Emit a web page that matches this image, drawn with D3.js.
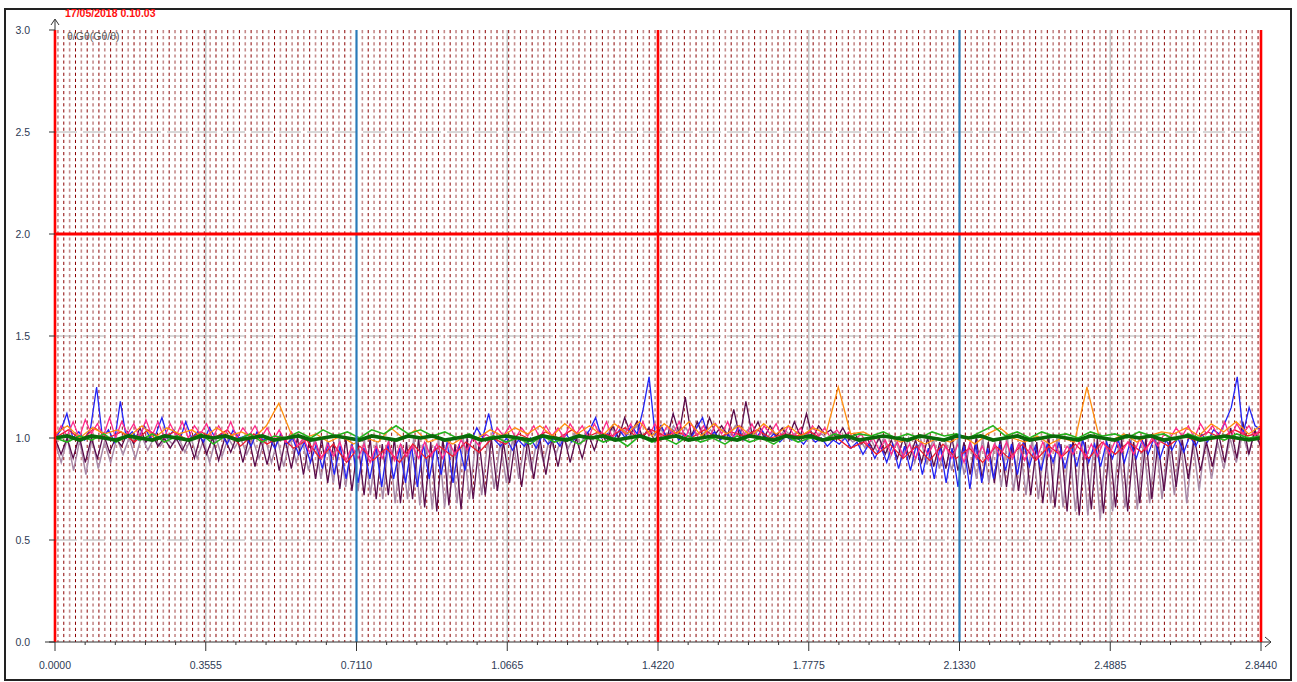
<!DOCTYPE html>
<html>
<head>
<meta charset="utf-8">
<script src="https://cdn.jsdelivr.net/npm/d3@7"></script>
<style>
  html, body { margin: 0; padding: 0; background: #fff; }
  svg { display: block; font-family: "Liberation Sans", Arial, sans-serif; }
</style>
</head>
<body>
<svg id="chart" width="1297" height="682"></svg>
<script>
// chart values
var title = "17/05/2018 0.10.03";
var subtitle = "\u03b8/G\u03b8(G\u03b8/\u03b8)";
var xMax = 2.844;
var yMax = 3.0;
var xTickLabels = ["0.0000", "0.3555", "0.7110", "1.0665", "1.4220", "1.7775", "2.1330", "2.4885", "2.8440"];
var yTickLabels = ["0.0", "0.5", "1.0", "1.5", "2.0", "2.5", "3.0"];
var redVerticals = [0, 1.422, 2.844];
var blueVerticals = [0.711, 2.133];
var redHorizontals = [2.0];
var greyVerticals = [0.3555, 1.0665, 1.7775, 2.4885];
var greyHorizontals = [0.5, 1.5, 2.5];

var mauve = [
  0.98,0.88,1.0,0.84,0.99,0.82,1.0,0.85,0.98,0.88,1.0,0.92,1.0,0.9,1.01,0.94,1.0,0.96,1.0,0.97,
  1.0,0.93,1.0,0.9,0.99,0.88,1.0,0.91,1.0,0.95,1.0,0.92,0.99,0.9,1.0,0.88,0.99,0.86,1.0,0.88,
  0.99,0.84,1.0,0.8,0.98,0.78,1.0,0.76,0.98,0.74,1.0,0.72,0.98,0.7,1.0,0.68,0.97,0.7,1.0,0.67,
  0.98,0.65,1.0,0.66,0.97,0.68,1.0,0.7,0.98,0.72,1.0,0.75,0.98,0.78,1.0,0.8,0.99,0.84,1.0,0.88,
  1.0,0.92,1.01,0.95,1.02,0.97,1.03,0.99,1.04,1.0,1.05,1.0,1.04,1.01,1.06,1.0,1.05,1.01,1.04,1.0,
  1.06,1.01,1.05,1.0,1.07,1.01,1.04,1.0,1.05,1.01,1.06,1.0,1.04,1.01,1.05,1.0,1.03,1.0,1.04,1.01,
  1.03,1.0,1.04,1.0,1.02,0.99,1.03,1.0,1.01,0.98,1.0,0.95,0.99,0.93,1.0,0.9,0.98,0.9,1.0,0.88,
  0.99,0.87,1.0,0.85,0.98,0.84,1.0,0.82,0.98,0.8,1.0,0.78,0.98,0.76,1.0,0.74,0.98,0.72,1.0,0.7,
  0.98,0.68,1.0,0.66,0.97,0.64,1.0,0.62,0.98,0.6,1.0,0.64,0.97,0.66,1.0,0.65,0.98,0.68,1.0,0.7,
  0.98,0.72,1.0,0.68,0.98,0.74,1.0,0.8,0.98,0.85,1.0,0.88,1.02,0.92,1.04,0.96
];
var plum = [
  1.0,0.92,1.0,0.9,1.01,0.88,1.0,0.9,1.02,0.93,1.0,0.96,1.03,0.97,1.05,0.98,1.02,0.96,1.0,0.95,
  1.0,0.94,1.0,0.9,1.01,0.92,1.0,0.89,1.0,0.93,1.01,0.88,1.0,0.86,0.99,0.87,1.0,0.84,0.99,0.85,
  1.0,0.82,0.99,0.8,1.0,0.78,0.98,0.75,1.0,0.74,0.98,0.72,1.0,0.7,0.97,0.72,1.0,0.68,0.98,0.7,
  1.0,0.66,0.98,0.64,1.0,0.67,0.97,0.65,1.0,0.7,0.98,0.72,1.0,0.74,0.98,0.78,1.0,0.76,0.99,0.8,
  1.0,0.82,1.0,0.86,1.01,0.88,1.0,0.9,1.02,0.94,1.03,0.98,1.06,1.0,1.1,1.02,1.08,1.0,1.05,0.98,
  1.06,1.0,1.12,1.02,1.2,1.01,1.08,1.0,1.1,1.02,1.06,1.01,1.14,1.0,1.18,1.02,1.08,1.0,1.06,1.01,
  1.05,1.0,1.08,1.01,1.12,1.0,1.06,1.02,1.04,1.0,1.05,0.99,1.02,0.97,1.0,0.94,1.0,0.92,0.99,0.9,
  1.0,0.9,0.99,0.88,1.0,0.86,0.98,0.85,1.0,0.84,0.98,0.82,1.0,0.8,0.98,0.78,1.0,0.76,0.98,0.74,
  1.0,0.72,0.98,0.68,1.0,0.66,0.97,0.64,1.0,0.62,0.98,0.65,1.0,0.63,0.97,0.66,1.0,0.64,0.98,0.68,
  1.0,0.7,0.98,0.74,1.0,0.76,0.99,0.8,1.0,0.84,0.98,0.86,1.02,0.88,1.05,0.9,1.08,0.92,1.04,0.95
];
var blue = [
  1.0,1.04,1.12,1.0,1.03,0.99,1.05,1.25,1.0,1.04,0.98,1.18,1.0,1.03,0.99,1.06,1.0,1.02,1.1,1.0,
  1.04,0.99,1.08,1.0,1.03,0.98,1.05,1.0,1.02,0.97,1.04,1.0,1.01,0.96,1.03,0.99,1.0,0.95,1.02,0.97,
  1.0,0.92,0.98,0.88,0.97,0.85,0.98,0.82,0.96,0.8,0.97,0.78,0.95,0.8,0.96,0.76,0.97,0.8,0.95,0.78,
  0.96,0.76,0.97,0.8,0.96,0.82,0.98,0.78,0.97,0.84,0.98,1.05,1.0,1.12,0.99,0.96,1.0,0.94,0.99,0.96,
  1.0,0.95,1.01,0.97,1.0,0.96,1.02,0.98,1.01,1.0,1.04,1.1,1.0,1.02,0.99,1.04,1.0,1.06,1.02,1.14,
  1.3,1.02,1.06,1.0,1.04,0.99,1.02,1.0,1.05,1.1,1.0,1.03,0.99,1.02,1.0,1.05,0.99,1.02,1.0,1.04,
  0.99,1.02,0.98,1.01,0.99,1.0,0.97,1.01,0.98,1.0,0.96,0.99,0.97,1.0,0.95,0.98,0.92,0.97,0.9,0.96,
  0.88,0.97,0.85,0.96,0.84,0.97,0.82,0.95,0.8,0.96,0.78,0.95,0.76,0.96,0.75,0.97,0.78,0.95,0.8,0.97,
  0.84,0.97,0.82,0.98,0.86,0.96,0.84,0.97,0.88,0.98,0.85,0.97,0.86,0.99,0.88,0.97,0.86,0.98,0.9,0.99,
  0.88,0.98,0.9,0.99,0.92,1.0,0.9,0.99,0.94,1.0,0.93,1.01,0.96,1.02,0.98,1.04,1.02,1.08,1.15,1.3,
  1.02,1.15,1.06,1.04
];
var red = [
  1.0,1.04,0.99,1.05,1.0,1.03,0.98,1.04,1.0,1.03,
  0.99,1.03,1.0,1.04,0.96,1.02,0.97,1.01,0.95,0.99,
  0.9,0.97,0.88,0.96,0.89,0.95,0.88,0.97,0.9,0.96,
  0.91,0.98,0.93,1.0,0.97,1.02,0.99,1.03,1.0,1.04,
  1.0,1.03,1.01,1.05,1.0,1.04,1.01,1.03,1.0,1.04,
  1.0,1.03,1.01,1.04,1.0,1.02,1.01,1.03,0.99,1.0,
  0.95,0.98,0.92,0.97,0.9,0.96,0.89,0.97,0.9,0.95,
  0.88,0.96,0.9,0.97,0.89,0.96,0.91,0.97,0.9,0.98,
  0.92,0.98,0.93,1.0,0.96,1.01,0.99,1.03,1.0,1.04,
  1.01,1.03
];
var pink = [
  1.0,1.06,1.01,1.08,1.0,1.09,1.02,1.07,1.01,1.1,1.0,1.08,1.02,1.07,1.0,1.09,1.01,1.08,1.0,1.07,
  1.01,1.08,1.0,1.06,1.02,1.07,1.0,1.06,1.01,1.08,1.0,1.05,1.01,1.06,1.0,1.05,0.99,1.04,0.98,1.03,
  0.96,1.0,0.93,0.98,0.9,0.97,0.91,0.98,0.89,0.96,0.9,0.97,0.88,0.96,0.9,0.98,0.89,0.97,0.91,0.96,
  0.9,0.98,0.91,0.97,0.9,0.98,0.92,0.99,0.94,1.0,0.96,1.02,1.0,1.05,1.01,1.06,1.0,1.05,1.01,1.06,
  1.0,1.06,1.01,1.05,1.0,1.07,1.02,1.06,1.0,1.07,1.01,1.08,1.0,1.06,1.02,1.07,1.0,1.08,1.01,1.07,
  1.0,1.06,1.02,1.08,1.0,1.07,1.01,1.06,1.0,1.07,1.02,1.08,1.0,1.06,1.01,1.07,1.0,1.06,1.02,1.07,
  1.0,1.06,1.01,1.05,1.0,1.06,1.01,1.05,1.0,1.04,1.0,1.03,0.99,1.02,0.97,1.0,0.94,0.99,0.92,0.98,
  0.91,0.97,0.9,0.98,0.92,0.97,0.89,0.96,0.9,0.97,0.88,0.98,0.9,0.96,0.89,0.97,0.91,0.98,0.9,0.97,
  0.89,0.96,0.9,0.98,0.91,0.97,0.9,0.96,0.92,0.98,0.9,0.97,0.91,0.98,0.92,0.99,0.93,0.98,0.92,1.0,
  0.94,1.0,0.96,1.02,1.0,1.05,1.01,1.06,1.0,1.07,1.02,1.06,1.01,1.08,1.0,1.07,1.02,1.06,1.01,1.05
];
var orange = [
  1.02,1.06,1.0,1.05,1.02,1.04,1.01,1.06,1.0,1.05,
  1.02,1.04,1.0,1.05,1.01,1.03,1.0,1.06,1.17,1.02,
  1.0,1.02,0.98,1.01,0.97,1.0,0.98,1.05,1.0,1.04,
  0.98,1.0,0.97,1.01,1.0,1.04,1.01,1.05,1.02,1.06,
  1.01,1.07,1.02,1.06,1.01,1.07,1.02,1.08,1.01,1.07,
  1.02,1.08,1.01,1.07,1.02,1.06,1.01,1.07,1.02,1.06,
  1.01,1.05,1.02,1.25,1.02,1.03,1.0,1.01,0.98,1.0,
  0.97,1.0,0.98,1.01,0.97,1.02,1.05,1.0,0.98,1.01,
  0.97,1.0,0.98,1.25,1.0,0.99,1.02,0.98,1.01,1.03,
  1.02,1.05,1.01,1.07,1.03,1.08,1.02,1.06
];
var green = [
  1.0,0.98,1.01,0.99,1.02,0.98,1.01,0.99,1.02,0.98,
  1.01,0.99,1.02,0.97,1.01,0.99,1.02,0.98,1.01,1.0,
  1.03,1.0,1.04,1.01,1.03,1.0,1.04,1.02,1.06,1.02,
  1.04,1.01,1.03,1.0,1.02,0.99,1.01,0.98,1.0,0.97,
  1.01,0.98,1.0,0.97,1.01,0.98,1.0,0.96,1.01,0.98,
  1.0,0.97,1.01,0.98,1.0,0.97,1.01,0.98,1.0,0.97,
  1.01,0.98,1.0,0.99,1.02,1.0,1.02,1.01,1.03,1.0,
  1.02,1.0,1.03,1.01,1.02,1.0,1.03,1.06,1.01,1.03,
  1.0,1.03,1.01,1.02,1.0,1.03,1.01,1.02,1.0,1.03,
  1.01,1.02,0.99,1.02,1.0,1.01,0.99,1.02,1.0,1.01
];
var darkGreen = [
  1.0,1.01,0.99,1.01,1.0,0.99,1.01,1.0,0.99,1.01,
  1.0,0.99,1.01,1.0,1.01,0.99,1.0,1.01,0.99,1.0,
  1.01,0.99,1.0,1.01,1.0,0.99,1.01,1.0,0.99,1.01,
  1.0,1.01,0.99,1.0,1.01,0.99,1.0,1.01,1.0,0.99,
  1.01,1.0,0.99,1.01,1.0,1.01,0.99,1.0,1.01,0.99,
  1.0,1.01,0.99,1.0,1.01,1.0,0.99,1.01,1.0,0.99,
  1.01,1.0,1.01,0.99,1.0,1.01,0.99,1.0,1.01,1.0,
  0.99,1.01,1.0,0.99,1.01,1.0,1.01,0.99,1.0,1.01,
  0.99,1.0,1.01,1.0,0.99,1.01,1.0,0.99,1.01,1.0,
  1.01,0.99,1.0,1.01,0.99,1.0,1.01,1.0,0.99,1.0
];

var seriesList = [
  { name: "mauve", values: mauve, color: "#a98aa8", width: 1.5 },
  { name: "plum", values: plum, color: "#5b0d4c", width: 1.3 },
  { name: "blue", values: blue, color: "#2323f5", width: 1.3 },
  { name: "red", values: red, color: "#ec1c2e", width: 1.3 },
  { name: "pink", values: pink, color: "#ff2a8a", width: 1.3 },
  { name: "orange", values: orange, color: "#ff8f10", width: 1.3 },
  { name: "green", values: green, color: "#27b41f", width: 1.6 },
  { name: "darkGreen", values: darkGreen, color: "#0a6a0a", width: 3.6 }
];

(function () {
  'use strict';

  var svg = d3.select("svg#chart");

  var plotLeft = 55, plotRight = 1261, plotTop = 30, plotBottom = 642;

  var x = d3.scaleLinear().domain([0, xMax]).range([plotLeft, plotRight]);
  var y = d3.scaleLinear().domain([0, yMax]).range([plotBottom, plotTop]);

  // outer frame
  svg.append('rect')
    .attr('x', 5).attr('y', 9)
    .attr('width', 1286).attr('height', 671)
    .attr('fill', '#fff')
    .attr('stroke', '#222')
    .attr('stroke-width', 2);

  // dotted background grid (vertical dashes)
  var gridStep = xMax / 206;
  var gridWrap = svg.append('g').attr('class', 'grid');
  gridWrap.selectAll('line')
    .data(d3.range(gridStep / 2, xMax, gridStep))
    .enter().append('line')
    .attr('x1', function(d) { return x(d); })
    .attr('x2', function(d) { return x(d); })
    .attr('y1', y(yMax))
    .attr('y2', y(0))
    .attr('stroke', function(d, i) { return i % 2 ? '#8b0000' : '#c58a8a'; })
    .attr('stroke-width', function(d, i) { return i % 2 ? 1 : 1.6; })
    .attr('stroke-dasharray', '3.2,2.9');

  // grey helper lines
  svg.selectAll('line.grey-v')
    .data(greyVerticals)
    .enter().append('line')
    .attr('class', 'grey-v')
    .attr('x1', function(d) { return x(d); })
    .attr('x2', function(d) { return x(d); })
    .attr('y1', y(yMax)).attr('y2', y(0))
    .attr('stroke', '#c4c4c4')
    .attr('stroke-width', 1.5);

  svg.selectAll('line.grey-h')
    .data(greyHorizontals)
    .enter().append('line')
    .attr('class', 'grey-h')
    .attr('x1', x(0)).attr('x2', x(xMax))
    .attr('y1', function(d) { return y(d); })
    .attr('y2', function(d) { return y(d); })
    .attr('stroke', '#b0b0b0')
    .attr('stroke-width', 1)
    .attr('stroke-dasharray', '22,6');

  // data series
  var lineWrap = svg.append('g').attr('class', 'series');
  seriesList.forEach(function(s) {
    var xi = d3.scaleLinear().domain([0, s.values.length - 1]).range([0, xMax]);
    var line = d3.line()
      .x(function(d, i) { return x(xi(i)); })
      .y(function(d) { return y(d); });
    lineWrap.append('path')
      .datum(s.values)
      .attr('d', line)
      .attr('fill', 'none')
      .attr('stroke', s.color)
      .attr('stroke-width', s.width)
      .attr('stroke-linejoin', 'miter');
  });

  // reference lines
  svg.selectAll('line.blue-v')
    .data(blueVerticals)
    .enter().append('line')
    .attr('class', 'blue-v')
    .attr('x1', function(d) { return x(d); })
    .attr('x2', function(d) { return x(d); })
    .attr('y1', y(yMax)).attr('y2', y(0))
    .attr('stroke', '#2a7ab8')
    .attr('stroke-width', 2.2);

  svg.selectAll('line.red-h')
    .data(redHorizontals)
    .enter().append('line')
    .attr('class', 'red-h')
    .attr('x1', x(0)).attr('x2', x(xMax))
    .attr('y1', function(d) { return y(d); })
    .attr('y2', function(d) { return y(d); })
    .attr('stroke', '#ff0000')
    .attr('stroke-width', 3);

  // x axis
  var axisColor = '#333';
  svg.append('line')
    .attr('x1', plotLeft - 10).attr('x2', plotRight + 10)
    .attr('y1', plotBottom).attr('y2', plotBottom)
    .attr('stroke', axisColor).attr('stroke-width', 1.2);
  svg.append('path')
    .attr('d', `M${plotRight + 4},${plotBottom - 5} L${plotRight + 10},${plotBottom} L${plotRight + 4},${plotBottom + 5}`)
    .attr('fill', 'none').attr('stroke', axisColor).attr('stroke-width', 1);

  var minorTicks = d3.range(0, 41).map(function(i) { return i * xMax / 40; });
  svg.selectAll('line.minor-tick')
    .data(minorTicks)
    .enter().append('line')
    .attr('class', 'minor-tick')
    .attr('x1', function(d) { return x(d); })
    .attr('x2', function(d) { return x(d); })
    .attr('y1', plotBottom)
    .attr('y2', function(d, i) { return i % 5 === 0 ? plotBottom + 9 : plotBottom + 3; })
    .attr('stroke', axisColor).attr('stroke-width', 1);

  svg.selectAll('text.x-label')
    .data(xTickLabels)
    .enter().append('text')
    .attr('class', 'x-label')
    .attr('x', function(d, i) { return x(i * xMax / (xTickLabels.length - 1)); })
    .attr('y', plotBottom + 27)
    .attr('text-anchor', 'middle')
    .style('font-size', '10.5px')
    .attr('fill', '#2d3a55')
    .text(function(d) { return d; });

  // y axis
  svg.append('line')
    .attr('x1', plotLeft).attr('x2', plotLeft)
    .attr('y1', plotTop - 10).attr('y2', plotBottom)
    .attr('stroke', axisColor).attr('stroke-width', 1);
  svg.append('path')
    .attr('d', `M${plotLeft - 4},${plotTop - 5} L${plotLeft},${plotTop - 11} L${plotLeft + 4},${plotTop - 5}`)
    .attr('fill', 'none').attr('stroke', axisColor).attr('stroke-width', 1);

  svg.selectAll('line.red-v')
    .data(redVerticals)
    .enter().append('line')
    .attr('class', 'red-v')
    .attr('x1', function(d) { return x(d); })
    .attr('x2', function(d) { return x(d); })
    .attr('y1', y(yMax)).attr('y2', y(0))
    .attr('stroke', '#ff0000')
    .attr('stroke-width', 2.6);

  svg.selectAll('line.y-tick')
    .data(yTickLabels)
    .enter().append('line')
    .attr('class', 'y-tick')
    .attr('x1', plotLeft - 6).attr('x2', plotLeft)
    .attr('y1', function(d) { return y(+d); })
    .attr('y2', function(d) { return y(+d); })
    .attr('stroke', axisColor).attr('stroke-width', 1);

  svg.selectAll('text.y-label')
    .data(yTickLabels)
    .enter().append('text')
    .attr('class', 'y-label')
    .attr('x', 30)
    .attr('y', function(d) { return y(+d) + 4; })
    .attr('text-anchor', 'end')
    .style('font-size', '10.5px')
    .attr('fill', '#2d3a55')
    .text(function(d) { return d; });

  // title texts
  svg.append('text')
    .attr('x', 65).attr('y', 17)
    .style('font-size', '10.5px')
    .style('font-weight', 'bold')
    .attr('fill', '#ff1010')
    .text(title);

  svg.append('text')
    .attr('x', 67).attr('y', 40)
    .style('font-size', '10.5px')
    .attr('fill', '#555')
    .text(subtitle);
}());
</script>
</body>
</html>
